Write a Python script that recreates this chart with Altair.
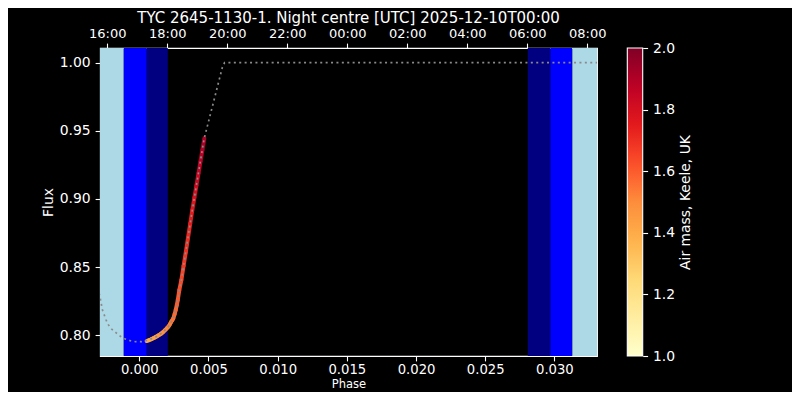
import altair as alt
import pandas as pd

# ---------------- data ----------------
TITLE = "TYC 2645-1130-1. Night centre [UTC] 2025-12-10T00:00"

# twilight bands (UTC clock time)
band_start = ["15:00", "16:33", "17:19", "06:01", "06:46", "07:30"]
band_end   = ["16:33", "17:19", "18:01", "06:46", "07:30", "09:00"]
band_kind  = ["Day", "Civil", "Nautical", "Nautical", "Civil", "Day"]

time_ticks = ["16:00", "18:00", "20:00", "22:00", "00:00", "02:00", "04:00", "06:00", "08:00"]

# model light curve (dotted)
model_phase = [-0.00300, -0.00284, -0.00275, -0.00268, -0.00255, -0.00240, -0.00224,
               -0.00200, -0.00169, -0.00137, -0.00101, -0.00065, -0.00026, 0.00014,
               0.00048, 0.00114, 0.00162, 0.00210, 0.00246, 0.00263, 0.00278, 0.00289,
               0.00304, 0.00383, 0.00468, 0.00540, 0.00600, 0.00616, 0.03350]
model_flux = [0.8346, 0.8281, 0.8232, 0.8191, 0.8154, 0.8112, 0.8078,
              0.8046, 0.8019, 0.7993, 0.7973, 0.7960, 0.7953, 0.7953,
              0.7960, 0.7985, 0.8015, 0.8063, 0.8125, 0.8186, 0.8259, 0.8332,
              0.8406, 0.8919, 0.9440, 0.9726, 0.9965, 1.0000, 1.0000]

# observed points, coloured by air mass
obs_phase = [0.00053, 0.00070, 0.00086, 0.00100, 0.00114, 0.00128, 0.00140, 0.00152,
             0.00162, 0.00174, 0.00186, 0.00198, 0.00210, 0.00220, 0.00230, 0.00239,
             0.00246, 0.00255, 0.00263, 0.00271, 0.00278, 0.00289, 0.00304, 0.00320,
             0.00336, 0.00352, 0.00368, 0.00383, 0.00398, 0.00413, 0.00428, 0.00442,
             0.00456, 0.00470]
obs_flux = [0.7958, 0.7964, 0.7971, 0.7978, 0.7985, 0.7993, 0.8001, 0.8008,
            0.8015, 0.8026, 0.8038, 0.8050, 0.8063, 0.8080, 0.8098, 0.8112,
            0.8125, 0.8155, 0.8186, 0.8222, 0.8259, 0.8332, 0.8406, 0.8510,
            0.8610, 0.8715, 0.8820, 0.8919, 0.9010, 0.9100, 0.9190, 0.9275,
            0.9360, 0.9445]
obs_airmass = [1.40, 1.41, 1.42, 1.43, 1.44, 1.45, 1.46, 1.47,
               1.48, 1.49, 1.50, 1.51, 1.52, 1.53, 1.54, 1.55,
               1.56, 1.57, 1.58, 1.60, 1.61, 1.63, 1.65, 1.68,
               1.70, 1.72, 1.75, 1.77, 1.80, 1.83, 1.86, 1.88,
               1.91, 1.94]

phase_ticks = [0.000, 0.005, 0.010, 0.015, 0.020, 0.025, 0.030]
flux_ticks = [0.80, 0.85, 0.90, 0.95, 1.00]
air_ticks = [1.0, 1.2, 1.4, 1.6, 1.8, 2.0]

# YlOrRd colour map
ylorrd = ["#ffffcc", "#ffeda0", "#fed976", "#feb24c", "#fd8d3c",
          "#fc4e2a", "#e31a1c", "#bd0026", "#800026"]


def to_hours(s):
    h, m = s.split(":")
    v = int(h) + int(m) / 60.0
    return v + 24 if v < 12 else v


bands_df = pd.DataFrame({
    "start": [to_hours(s) for s in band_start],
    "end": [to_hours(s) for s in band_end],
    "kind": band_kind,
})
tick_hours = [to_hours(s) for s in time_ticks]

model_df = pd.DataFrame({"phase": model_phase, "flux": model_flux})

obs_df = pd.DataFrame({"phase": obs_phase, "flux": obs_flux, "airmass": obs_airmass})
seg_df = obs_df.copy()
seg_df["phase2"] = seg_df["phase"].shift(-1)
seg_df["flux2"] = seg_df["flux"].shift(-1)
seg_df = seg_df.dropna()

# ---------------- chart ----------------
W, H = 497, 308
FONT = "DejaVu Sans"
FS = 13.9

time_scale = alt.Scale(domain=[15.757, 32.323], nice=False, zero=False)
phase_scale = alt.Scale(domain=[-0.002842, 0.03308], nice=False, zero=False)
flux_scale = alt.Scale(domain=[0.78482, 1.01076], nice=False, zero=False)
air_y_scale = alt.Scale(domain=[1, 2], nice=False, zero=False)
air_color = alt.Scale(domain=[1, 2], range=ylorrd, interpolate="rgb")

ax = dict(labelFont=FONT, labelColor="white",
          titleFont=FONT, titleColor="white",
          titleFontWeight="normal", tickColor="white", tickSize=4.9,
          tickWidth=1.1, domain=False, grid=False)

bands = alt.Chart(bands_df).mark_rect(clip=True).encode(
    x=alt.X("start:Q", scale=time_scale,
            axis=alt.Axis(orient="top", values=tick_hours, title=None,
                          labelPadding=2.5, labelFontSize=13,
                          labelExpr="(datum.value % 24 < 10 ? '0' : '') + (datum.value % 24) + ':00'",
                          **ax)),
    x2="end:Q",
    color=alt.Color("kind:N",
                    scale=alt.Scale(domain=["Day", "Civil", "Nautical"],
                                    range=["lightblue", "blue", "navy"]),
                    legend=None),
)

obs = alt.Chart(seg_df).mark_rule(strokeWidth=4, strokeCap="round", clip=True).encode(
    x=alt.X("phase:Q", scale=phase_scale, axis=None),
    x2="phase2:Q",
    y=alt.Y("flux:Q", scale=flux_scale, axis=None),
    y2="flux2:Q",
    color=alt.Color("airmass:Q", scale=air_color,
                    legend=alt.Legend(orient="none", legendX=527.3, legendY=0,
                                      direction="vertical", gradientLength=H,
                                      gradientThickness=15.4,
                                      gradientStrokeColor="white",
                                      gradientStrokeWidth=1.1,
                                      title=None, labelExpr="''")),
)

model = alt.Chart(model_df).mark_line(clip=True, color="#8a8a8a", strokeWidth=1.7,
                                      strokeDash=[2, 3.4]).encode(
    x=alt.X("phase:Q", scale=phase_scale,
            axis=alt.Axis(orient="bottom", values=phase_ticks, format=".3f",
                          labelFontSize=13.2,
                          title="Phase", titleFontSize=11.5, titlePadding=2.3,
                          labelPadding=2.8, **ax)),
    y=alt.Y("flux:Q", scale=flux_scale,
            axis=alt.Axis(orient="left", values=flux_ticks, format=".2f",
                          labelFontSize=FS,
                          title="Flux", titleFontSize=FS, titlePadding=4,
                          labelPadding=4.9, **ax)),
)

cbar = alt.Chart(obs_df).mark_point(opacity=0).encode(
    x=alt.X("phase:Q", scale=phase_scale, axis=None),
    y=alt.Y("airmass:Q", scale=air_y_scale,
            axis=alt.Axis(orient="right", offset=45.7, values=air_ticks, format=".1f",
                          labelFontSize=FS,
                          title="Air mass, Keele, UK", titleFontSize=FS, titleAngle=270,
                          titleBaseline="top", titlePadding=4, labelPadding=4.9, **ax)),
)

chart = alt.layer(bands, obs, model, cbar).resolve_scale(
    x="independent", y="independent", color="independent"
).properties(
    width=W, height=H,
    title=alt.TitleParams(TITLE, font=FONT, fontSize=15, fontWeight="normal",
                          color="white", offset=2.1),
    background="black",
    autosize=alt.AutoSizeParams(type="none"),
    padding={"left": 92, "top": 40, "right": 195, "bottom": 36},
).configure_view(stroke="white", strokeWidth=1.1)

chart.save("out.html", embed_options={"renderer": "svg", "actions": False})
